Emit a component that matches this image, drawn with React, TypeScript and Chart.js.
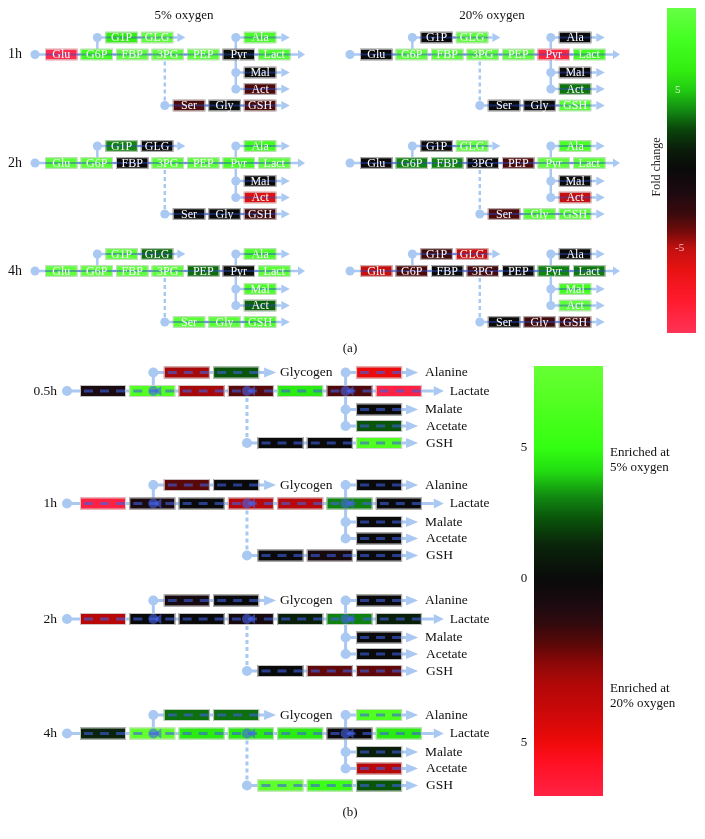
import React, { useEffect, useRef } from "react";
import { Chart, registerables } from "chart.js";
Chart.register(...registerables);

const CANVAS_W = 705;
const CANVAS_H = 839;
const SERIF = '"Liberation Serif", "DejaVu Serif", serif';

// ---------------- DATA ----------------
// panel (a): fold change, node order below
const metabolitesA = ["Glu", "G6P", "FBP", "3PG", "PEP", "Pyr", "Lact", "G1P", "GLG", "Ala", "Mal", "Act", "Ser", "Gly", "GSH"];
const conditionsA = ["5% oxygen", "20% oxygen"];
const timesA = ["1h", "2h", "4h"];
const fold5_1h = [-10, 8, 9.8, 9.8, 9.8, 0.3, 9, 6.5, 9.8, 8.5, 0.2, -3.2, -3.2, 0.2, -3.2];
const fold5_2h = [9.5, 9.5, 0, 9.5, 9.8, 8.5, 9.8, 3.6, 0, 8, 0, -6, 0, 0, -3];
const fold5_4h = [9.8, 9.8, 9.8, 9.8, 3.2, 0.3, 9.5, 9.5, 3.2, 8.5, 8.5, 3, 9.5, 9.5, 8.5];
const fold20_1h = [0, 9.8, 9.8, 9.8, 9.8, -9.2, 8, 0, 9.8, 0, 0, 3.3, 0, 0, 9.5];
const fold20_2h = [0, 3.6, 3.6, 0, -3.2, 9.8, 9.5, 0, 9.8, 8.5, 0, -5.2, -3.2, 9.5, 9.5];
const fold20_4h = [-5.2, -3.2, 0, -3, 0, 3.6, 3.4, -3, -5.3, 0, 8, 9.8, 0, -3, -3];

// panel (b): enrichment difference (5% vs 20%)
const timesB = ["0.5h", "1h", "2h", "4h"];
const productLabelsB = ["Glycogen", "Alanine", "Lactate", "Malate", "Acetate", "GSH"];
const enrich_05h = [-1, 6.8, -3.8, -2.5, 4.5, -2.3, -8.2, -3.8, 2.3, -6.2, 0, 2.3, 0, 0, 6.6];
const enrich_1h = [-8.2, -1, 0, -4.3, -4.3, 3, 0, -2.5, 0, 0, 0, 0, 0, -0.8, 0];
const enrich_2h = [-4.3, 0, 0, -0.8, 1, 3, 1, -0.8, 0, 0, 0, 0, 0, -2.6, -2.6];
const enrich_4h = [1.2, 7.8, 4.5, 4.5, 4.5, 0, 4.5, 2.7, 2.7, 6.6, 1, -4.3, 7.5, 5.5, 2.3];

// colour bars
const cbarTicksA = [5, -5];
const cbarTickLabelsA = ["5", "-5"];
const cbarTicksB = [5, 0, -6.25];
const cbarTickLabelsB = ["5", "0", "5"];
const cmapValuesA = [-10.4, -8.3, -6.4, -5, -3.9, -2.9, -1.6, 0, 1.2, 2.5, 3.7, 5, 6.3, 8.2, 10.2];
const cmapColorsA = ["#ff3355", "#ff1a2e", "#e81212", "#c01010", "#700a0a", "#3c0a0c", "#1e0a10", "#0a0a0a", "#0a1c0a", "#0a440a", "#128a12", "#22cc11", "#33ee11", "#44ff22", "#66ff44"];
const cmapValuesB = [-8.3, -7, -6.25, -5.1, -4, -3.2, -2.5, -1.7, -0.95, 0, 1.3, 2.3, 3.1, 4.1, 5, 6.9, 8.1];
const cmapColorsB = ["#ff2244", "#ff1022", "#ee0a0a", "#cc0808", "#b00808", "#8a0808", "#5a0808", "#300a0e", "#1a0a10", "#0a0a0a", "#0a250a", "#0a550a", "#118811", "#22dd11", "#33ff11", "#55ff22", "#66ff33"];

// ---------------- LAYOUT (topology) ----------------
const NODE_COL = [0, 1, 2, 3, 4, 5, 6, 1.7, 2.7, 5.6, 5.6, 5.6, 3.6, 4.6, 5.6];
const NODE_ROW = [1, 1, 1, 1, 1, 1, 1, 0, 0, 0, 2, 3, 4, 4, 4];

const GA = { pitch: 35.5, boxW: 32.5, boxH: 11.5, rowOff: [-17, 0, 18, 34.5, 51], circ: 4.5, circOff: 8, startOff: 10, lw: 2.5, aH: 4.5, mainArrow: [7.5, 14.5], sideArrow: [5, 13.5], topArrow: [4, 12], panel: "a" };
const GB = { pitch: 49.3, boxW: 46, boxH: 12, rowOff: [-18.5, 0, 18.5, 35, 52], circ: 5, circOff: 10.5, startOff: 13, lw: 3, aH: 5, mainArrow: [12, 22], sideArrow: [4, 16], topArrow: [5, 17], panel: "b" };
const A_X0 = [45, 360];
const A_YC = [54.5, 163, 271];
const B_X0 = 80;
const B_YC = [391, 503.5, 619, 733.5];

function hexToRgb(h: string) {
  const n = parseInt(h.slice(1), 16);
  return [(n >> 16) & 255, (n >> 8) & 255, n & 255];
}
function cmap(vals: number[], cols: string[], v: number) {
  if (v <= vals[0]) return cols[0];
  if (v >= vals[vals.length - 1]) return cols[cols.length - 1];
  for (let i = 0; i < vals.length - 1; i++) {
    if (v >= vals[i] && v <= vals[i + 1]) {
      const t = (v - vals[i]) / (vals[i + 1] - vals[i]);
      const a = hexToRgb(cols[i]);
      const b = hexToRgb(cols[i + 1]);
      const c = a.map((x, k) => Math.round(x + (b[k] - x) * t));
      return `rgb(${c[0]},${c[1]},${c[2]})`;
    }
  }
  return cols[0];
}

const LIGHT = "#a9c8f2";

function drawBlock(ctx: CanvasRenderingContext2D, X: (v: number) => number, Y: (v: number) => number, x0: number, yc: number, g: any, vals: number[], colorOf: (v: number) => string) {
  const bx = (i: number) => x0 + NODE_COL[i] * g.pitch;
  const rowY = (r: number) => yc + g.rowOff[r];
  const line = (xa: number, ya: number, xb: number, yb: number, dash?: number[]) => {
    ctx.save();
    ctx.strokeStyle = LIGHT;
    ctx.lineWidth = g.lw;
    ctx.setLineDash(dash || []);
    ctx.beginPath();
    ctx.moveTo(X(xa), Y(ya));
    ctx.lineTo(X(xb), Y(yb));
    ctx.stroke();
    ctx.restore();
  };
  const circle = (x: number, y: number) => {
    ctx.fillStyle = LIGHT;
    ctx.beginPath();
    ctx.arc(X(x), Y(y), g.circ, 0, Math.PI * 2);
    ctx.fill();
  };
  const arrow = (xb: number, xt: number, y: number) => {
    ctx.fillStyle = LIGHT;
    ctx.beginPath();
    ctx.moveTo(X(xb), Y(y) - g.aH);
    ctx.lineTo(X(xt), Y(y));
    ctx.lineTo(X(xb), Y(y) + g.aH);
    ctx.closePath();
    ctx.fill();
  };
  // main row
  const mainEnd = bx(6) + g.boxW;
  const startX = x0 - g.startOff;
  line(startX, rowY(1), mainEnd + g.mainArrow[0], rowY(1));
  arrow(mainEnd + g.mainArrow[0], mainEnd + g.mainArrow[1], rowY(1));
  circle(startX, rowY(1));
  // top branch
  const topC = bx(7) - g.circOff;
  const glgEnd = bx(8) + g.boxW;
  line(topC, rowY(0), topC, rowY(1));
  line(topC, rowY(0), glgEnd + g.topArrow[0], rowY(0));
  arrow(glgEnd + g.topArrow[0], glgEnd + g.topArrow[1], rowY(0));
  circle(topC, rowY(0));
  // right branch
  const rC = bx(9) - g.circOff;
  const rEnd = bx(9) + g.boxW;
  line(rC, rowY(0), rC, rowY(3));
  [0, 2, 3].forEach((r) => {
    line(rC, rowY(r), rEnd + g.sideArrow[0], rowY(r));
    arrow(rEnd + g.sideArrow[0], rEnd + g.sideArrow[1], rowY(r));
    circle(rC, rowY(r));
  });
  // serine branch
  const sC = bx(12) - g.circOff;
  const gEnd = bx(14) + g.boxW;
  line(sC, rowY(1), sC, rowY(4), [4, 3]);
  line(sC, rowY(4), gEnd + g.sideArrow[0], rowY(4));
  arrow(gEnd + g.sideArrow[0], gEnd + g.sideArrow[1], rowY(4));
  circle(sC, rowY(4));

  // boxes
  for (let i = 0; i < vals.length; i++) {
    const l = X(bx(i));
    const r = X(bx(i) + g.boxW);
    const cy = Y(rowY(NODE_ROW[i]));
    const h = g.boxH;
    ctx.fillStyle = colorOf(vals[i]);
    ctx.fillRect(l, cy - h / 2, r - l, h);
    ctx.strokeStyle = "rgba(215,215,215,0.9)";
    ctx.lineWidth = 1;
    ctx.strokeRect(l + 0.5, cy - h / 2 + 0.5, r - l - 1, h - 1);
  }
  // flow overlay
  ctx.save();
  if (g.panel === "b") {
    ctx.strokeStyle = "rgba(60,95,225,0.6)";
    ctx.lineWidth = 3;
    for (let i = 0; i < vals.length; i++) {
      const l = X(bx(i));
      const cy = Y(rowY(NODE_ROW[i]));
      ctx.setLineDash([9, 7]);
      ctx.beginPath();
      ctx.moveTo(l + 4, cy);
      ctx.lineTo(l + g.boxW - 1, cy);
      ctx.stroke();
    }
    ctx.setLineDash([]);
    [topC, sC, rC].forEach((jx) => {
      const px = X(jx), py = Y(rowY(1));
      ctx.fillStyle = "rgba(70,100,235,0.6)";
      ctx.beginPath();
      ctx.arc(px, py, 5, 0, Math.PI * 2);
      ctx.fill();
      ctx.beginPath();
      ctx.moveTo(px + 1, py);
      ctx.lineTo(px + 8, py - 5);
      ctx.lineTo(px + 8, py + 5);
      ctx.closePath();
      ctx.fill();
    });
  } else {
    ctx.strokeStyle = "rgba(40,70,200,0.45)";
    ctx.lineWidth = 2;
    const rowsSpan: [number, number, number][] = [
      [1, bx(0), mainEnd],
      [0, bx(7), glgEnd],
      [4, bx(12), gEnd],
      [0, bx(9), rEnd],
      [2, bx(10), rEnd],
      [3, bx(11), rEnd],
    ];
    rowsSpan.forEach(([r, a, b]) => {
      ctx.beginPath();
      ctx.moveTo(X(a), Y(rowY(r)));
      ctx.lineTo(X(b), Y(rowY(r)));
      ctx.stroke();
    });
  }
  ctx.restore();
  return { bx, rowY, mainEnd, glgEnd, rEnd, gEnd };
}

const diagramPlugin = {
  id: "diagram",
  afterDraw(chart: any) {
    const ctx: CanvasRenderingContext2D = chart.ctx;
    const xs = chart.scales.x;
    const ys = chart.scales.y;
    const X = (v: number) => xs.getPixelForValue(v);
    const Y = (v: number) => ys.getPixelForValue(v);
    ctx.save();
    ctx.textBaseline = "middle";

    // ---- panel (a)
    const foldA = [
      [fold5_1h, fold5_2h, fold5_4h],
      [fold20_1h, fold20_2h, fold20_4h],
    ];
    const colA = (v: number) => cmap(cmapValuesA, cmapColorsA, v);
    ctx.fillStyle = "#111";
    ctx.font = `13px ${SERIF}`;
    ctx.textAlign = "center";
    ctx.fillText(conditionsA[0], X(184), Y(16));
    ctx.fillText(conditionsA[1], X(492), Y(16));
    for (let c = 0; c < 2; c++) {
      for (let t = 0; t < timesA.length; t++) {
        const info = drawBlock(ctx, X, Y, A_X0[c], A_YC[t], GA, foldA[c][t], colA);
        ctx.fillStyle = "#ffffff";
        ctx.font = `12px ${SERIF}`;
        ctx.textAlign = "center";
        for (let i = 0; i < metabolitesA.length; i++) {
          const cx = X(info.bx(i) + GA.boxW / 2);
          const cy = Y(info.rowY(NODE_ROW[i])) + 0.5;
          ctx.fillText(metabolitesA[i], cx, cy);
        }
      }
    }
    ctx.fillStyle = "#111";
    ctx.font = `14px ${SERIF}`;
    ctx.textAlign = "left";
    timesA.forEach((t, k) => ctx.fillText(t, X(8), Y(A_YC[k])));

    // colour bar (a)
    const cbA = { x: 667, w: 29, top: 8, bottom: 333, vmax: 10.2, vmin: -10.4 };
    const yOfA = (v: number) => cbA.top + ((cbA.vmax - v) / (cbA.vmax - cbA.vmin)) * (cbA.bottom - cbA.top);
    let grad = ctx.createLinearGradient(0, Y(cbA.top), 0, Y(cbA.bottom));
    cmapValuesA.forEach((v, i) => {
      grad.addColorStop(Math.min(1, Math.max(0, (yOfA(v) - cbA.top) / (cbA.bottom - cbA.top))), cmapColorsA[i]);
    });
    ctx.fillStyle = grad;
    ctx.fillRect(X(cbA.x), Y(cbA.top), X(cbA.x + cbA.w) - X(cbA.x), Y(cbA.bottom) - Y(cbA.top));
    ctx.font = `11px ${SERIF}`;
    ctx.textAlign = "left";
    cbarTicksA.forEach((v, i) => {
      ctx.fillStyle = v > 0 ? "rgba(225,255,215,0.95)" : "rgba(255,200,200,0.95)";
      ctx.fillText(cbarTickLabelsA[i], X(cbA.x + 8), Y(yOfA(v)));
    });
    ctx.save();
    ctx.translate(X(657), Y(167));
    ctx.rotate(-Math.PI / 2);
    ctx.fillStyle = "#222";
    ctx.font = `12px ${SERIF}`;
    ctx.textAlign = "center";
    ctx.fillText("Fold change", 0, 0);
    ctx.restore();

    ctx.fillStyle = "#111";
    ctx.font = `13px ${SERIF}`;
    ctx.textAlign = "center";
    ctx.fillText("(a)", X(350), Y(349));

    // ---- panel (b)
    const enrichB = [enrich_05h, enrich_1h, enrich_2h, enrich_4h];
    const colB = (v: number) => cmap(cmapValuesB, cmapColorsB, v);
    for (let t = 0; t < timesB.length; t++) {
      const info = drawBlock(ctx, X, Y, B_X0, B_YC[t], GB, enrichB[t], colB);
      ctx.fillStyle = "#111";
      ctx.font = `13.5px ${SERIF}`;
      ctx.textAlign = "left";
      const ends: [number, number][] = [
        [info.glgEnd + GB.topArrow[1] + 4, info.rowY(0)],
        [info.rEnd + GB.sideArrow[1] + 7, info.rowY(0)],
        [info.mainEnd + GB.mainArrow[1] + 6, info.rowY(1)],
        [info.rEnd + GB.sideArrow[1] + 7, info.rowY(2)],
        [info.rEnd + GB.sideArrow[1] + 8, info.rowY(3)],
        [info.gEnd + GB.sideArrow[1] + 8, info.rowY(4)],
      ];
      productLabelsB.forEach((lab, k) => ctx.fillText(lab, X(ends[k][0]), Y(ends[k][1])));
      ctx.textAlign = "right";
      ctx.fillText(timesB[t], X(57), Y(B_YC[t]));
    }

    // colour bar (b)
    const cbB = { x: 534, w: 69, top: 366, bottom: 796, vmax: 8.1, vmin: -8.3 };
    const yOfB = (v: number) => cbB.top + ((cbB.vmax - v) / (cbB.vmax - cbB.vmin)) * (cbB.bottom - cbB.top);
    grad = ctx.createLinearGradient(0, Y(cbB.top), 0, Y(cbB.bottom));
    cmapValuesB.forEach((v, i) => {
      grad.addColorStop(Math.min(1, Math.max(0, (yOfB(v) - cbB.top) / (cbB.bottom - cbB.top))), cmapColorsB[i]);
    });
    ctx.fillStyle = grad;
    ctx.fillRect(X(cbB.x), Y(cbB.top), X(cbB.x + cbB.w) - X(cbB.x), Y(cbB.bottom) - Y(cbB.top));
    ctx.fillStyle = "#111";
    ctx.font = `13px ${SERIF}`;
    ctx.textAlign = "center";
    cbarTicksB.forEach((v, i) => ctx.fillText(cbarTickLabelsB[i], X(524), Y(yOfB(v))));
    ctx.textAlign = "left";
    ctx.fillText("Enriched at", X(610), Y(453));
    ctx.fillText("5% oxygen", X(610), Y(468));
    ctx.fillText("Enriched at", X(610), Y(689));
    ctx.fillText("20% oxygen", X(610), Y(704));

    ctx.textAlign = "center";
    ctx.fillText("(b)", X(350), Y(813));
    ctx.restore();
  },
};

export default function App() {
  const ref = useRef<HTMLCanvasElement | null>(null);
  useEffect(() => {
    if (!ref.current) return;
    const nodePoints = (x0: number, yc: number, g: any) =>
      NODE_COL.map((c, i) => ({ x: x0 + c * g.pitch + g.boxW / 2, y: yc + g.rowOff[NODE_ROW[i]] }));
    const datasets: any[] = [];
    A_X0.forEach((x0) => A_YC.forEach((yc) => datasets.push({ data: nodePoints(x0, yc, GA), pointRadius: 0 })));
    B_YC.forEach((yc) => datasets.push({ data: nodePoints(B_X0, yc, GB), pointRadius: 0 }));
    const chart = new Chart(ref.current, {
      type: "scatter",
      data: { datasets },
      options: {
        animation: false,
        responsive: false,
        maintainAspectRatio: false,
        devicePixelRatio: 1,
        layout: { padding: 0 },
        events: [],
        plugins: { legend: { display: false }, tooltip: { enabled: false } },
        scales: {
          x: { type: "linear", min: 0, max: CANVAS_W, display: false },
          y: { type: "linear", min: 0, max: CANVAS_H, reverse: true, display: false },
        },
      },
      plugins: [diagramPlugin],
    });
    return () => chart.destroy();
  }, []);
  return (
    <div style={{ position: "absolute", left: 0, top: 0, width: CANVAS_W, height: CANVAS_H, background: "#fff" }}>
      <canvas ref={ref} width={CANVAS_W} height={CANVAS_H} style={{ display: "block", width: CANVAS_W, height: CANVAS_H }} />
    </div>
  );
}
